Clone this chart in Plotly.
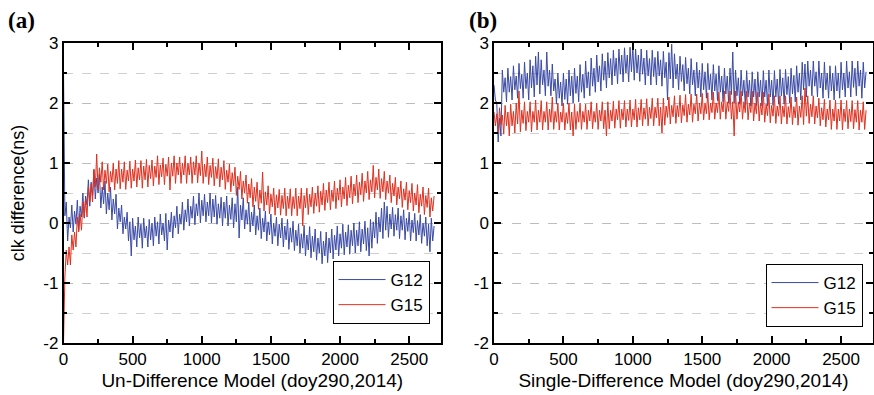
import plotly.graph_objects as go

EPOCH_STEP = 10  # upper-edge readings sit at epochs 0,20,40,...; lower-edge readings at 10,30,50,...

# ---------- Panel (a) Un-Difference model ----------
g12_undiff_upper = [
    2.55, 0.35, 0.1, 0.3, 0.2, 0.38, 0.28, 0.5, 0.45, 0.72,
    0.68, 0.88, 0.75, 0.82, 0.6, 0.7, 0.5, 0.6, 0.4, 0.48,
    0.25, 0.3, 0.1, 0.18, 0.02, 0.08, -0.05, 0.1, -0.02, 0.08,
    -0.05, 0.06, 0.0, 0.1, 0.02, 0.15, 0.0, 0.16, 0.05, 0.18,
    0.12, 0.28, 0.15, 0.35, 0.22, 0.4, 0.28, 0.45, 0.32, 0.5,
    0.38, 0.48, 0.35, 0.5, 0.4, 0.46, 0.32, 0.43, 0.35, 0.45,
    0.3, 0.42, 0.32, 0.6, 0.3, 0.42, 0.22, 0.35, 0.18, 0.3,
    0.12, 0.25, 0.08, 0.2, 0.02, 0.15, 0.0, 0.1, -0.02, 0.08,
    -0.05, 0.06, -0.08, 0.03, -0.12, -0.02, -0.18, -0.04, -0.2, -0.06,
    -0.22, -0.1, -0.25, -0.14, -0.3, -0.15, -0.25, -0.1, -0.2, -0.05,
    -0.18, -0.02, -0.15, -0.03, -0.12, 0.0, -0.12, 0.02, -0.1, 0.03,
    -0.08, 0.06, 0.02, 0.18, 0.1, 0.25, 0.35, 0.28, 0.15, 0.26,
    0.14, 0.25, 0.12, 0.22, 0.08, 0.18, 0.05, 0.16, 0.04, 0.14,
    0.0, 0.1, -0.02, 0.08, -0.05,
]
g12_undiff_lower = [
    0.12, -0.3, -0.08, -0.15, -0.02, -0.12, 0.1, 0.08, 0.3, 0.28,
    0.45, 0.4, 0.5, 0.25, 0.32, 0.15, 0.22, 0.05, 0.15, -0.1,
    0.02, -0.18, -0.1, -0.3, -0.55, -0.28, -0.4, -0.25, -0.42, -0.25,
    -0.4, -0.28, -0.38, -0.22, -0.35, -0.2, -0.3, -0.45, -0.15, -0.25,
    -0.08, -0.18, -0.02, -0.12, 0.02, -0.05, 0.08, -0.03, 0.12, 0.0,
    0.12, 0.02, 0.12, 0.0, 0.1, -0.02, 0.08, -0.05, 0.08, -0.05,
    0.06, -0.08, 0.02, -0.25, 0.05, -0.1, -0.02, -0.15, -0.05, -0.2,
    -0.12, -0.26, -0.15, -0.3, -0.2, -0.35, -0.22, -0.38, -0.25, -0.4,
    -0.28, -0.44, -0.32, -0.46, -0.38, -0.5, -0.42, -0.55, -0.45, -0.58,
    -0.48, -0.62, -0.5, -0.68, -0.55, -0.66, -0.5, -0.6, -0.45, -0.55,
    -0.42, -0.53, -0.4, -0.52, -0.38, -0.5, -0.38, -0.48, -0.35, -0.46,
    -0.55, -0.42, -0.25, -0.34, -0.15, -0.26, -0.12, -0.24, -0.1, -0.22,
    -0.12, -0.26, -0.12, -0.28, -0.14, -0.3, -0.16, -0.3, -0.2, -0.34,
    -0.22, -0.38, -0.48, -0.3,
]
g15_undiff_upper = [
    -2.0, -0.45, -0.4, -0.2, -0.15, 0.1, 0.15, 0.35, 0.4, 0.6,
    0.65, 0.9, 1.15, 0.92, 1.02, 0.88, 0.98, 0.86, 1.0, 0.9,
    1.04, 0.9, 1.02, 0.88, 1.03, 0.9, 1.05, 0.92, 1.04, 0.95,
    1.06, 0.96, 1.05, 0.95, 1.12, 0.97, 1.08, 0.98, 1.1, 1.0,
    1.12, 1.0, 1.1, 1.0, 1.12, 1.0, 1.1, 1.02, 1.12, 1.0,
    1.2, 0.98, 1.1, 0.96, 1.08, 0.94, 1.07, 0.93, 1.04, 0.88,
    0.98, 0.84, 0.93, 0.78, 0.86, 0.7, 0.8, 0.65, 0.74, 0.6,
    0.68, 0.55, 0.85, 0.52, 0.62, 0.48, 0.58, 0.47, 0.56, 0.46,
    0.58, 0.45, 0.57, 0.44, 0.58, 0.45, 0.58, 0.46, 0.58, 0.48,
    0.6, 0.5, 0.62, 0.53, 0.66, 0.55, 0.68, 0.55, 0.7, 0.58,
    0.72, 0.6, 0.76, 0.63, 0.78, 0.65, 0.8, 0.68, 0.83, 0.7,
    0.86, 0.72, 0.96, 0.76, 0.9, 0.74, 0.86, 0.7, 0.8, 0.66,
    0.76, 0.6, 0.7, 0.57, 0.68, 0.54, 0.66, 0.5, 0.64, 0.48,
    0.6, 0.46, 0.58, 0.42, 0.45,
]
g15_undiff_lower = [
    -0.9, -0.7, -0.7, -0.45, -0.4, -0.15, -0.12, 0.1, 0.1, 0.35,
    0.35, 0.6, 0.55, 0.68, 0.55, 0.66, 0.52, 0.68, 0.55, 0.66,
    0.57, 0.68, 0.56, 0.7, 0.58, 0.7, 0.6, 0.72, 0.58, 0.72,
    0.6, 0.74, 0.62, 0.76, 0.64, 0.77, 0.64, 0.78, 0.55, 0.78,
    0.66, 0.8, 0.66, 0.8, 0.66, 0.8, 0.66, 0.8, 0.67, 0.79,
    0.66, 0.77, 0.64, 0.76, 0.62, 0.74, 0.6, 0.72, 0.56, 0.68,
    0.52, 0.62, 0.46, 0.56, 0.4, 0.5, 0.33, 0.42, 0.27, 0.36,
    0.23, 0.33, 0.2, 0.3, 0.15, 0.27, 0.13, 0.25, 0.13, 0.24,
    0.12, 0.24, 0.12, 0.24, 0.12, 0.24, -0.05, 0.25, 0.14, 0.27,
    0.16, 0.28, 0.18, 0.3, 0.21, 0.34, 0.22, 0.36, 0.24, 0.38,
    0.27, 0.4, 0.29, 0.42, 0.32, 0.45, 0.34, 0.47, 0.36, 0.5,
    0.39, 0.52, 0.42, 0.55, 0.41, 0.52, 0.39, 0.5, 0.34, 0.45,
    0.3, 0.4, 0.26, 0.38, 0.22, 0.34, 0.2, 0.3, 0.17, 0.28,
    0.14, 0.26, 0.1, 0.2,
]

# ---------- Panel (b) Single-Difference model ----------
g12_sdiff_upper = [
    2.3, 2.0, 1.75, 2.55, 2.42, 2.58, 2.44, 2.62, 2.45, 2.66,
    2.48, 2.68, 2.5, 2.72, 2.62, 2.78, 2.85, 2.72, 2.55, 2.85,
    2.55, 2.65, 2.4, 2.5, 2.35, 2.5, 2.4, 2.55, 2.45, 2.58,
    2.45, 2.64, 2.48, 2.7, 2.52, 2.75, 2.58, 2.8, 2.62, 2.82,
    2.7, 2.84, 2.74, 2.88, 2.75, 2.9, 2.8, 2.92, 2.8, 2.93,
    2.95, 2.9, 2.8, 2.9, 2.75, 2.88, 2.74, 2.88, 2.76, 2.86,
    2.72, 2.86, 2.68, 2.84, 2.98, 2.82, 2.65, 2.78, 2.64, 2.76,
    2.58, 2.74, 2.55, 2.68, 2.55, 2.66, 2.52, 2.66, 2.48, 2.64,
    2.48, 2.62, 2.45, 2.58, 2.45, 2.58, 2.85, 2.55, 2.42, 2.55,
    2.38, 2.54, 2.38, 2.52, 2.4, 2.52, 2.38, 2.54, 2.38, 2.55,
    2.38, 2.54, 2.4, 2.56, 2.42, 2.56, 2.44, 2.58, 2.46, 2.62,
    2.5, 2.68, 2.65, 2.7, 2.55, 2.7, 2.52, 2.7, 2.5, 2.68,
    2.5, 2.62, 2.5, 2.62, 2.5, 2.68, 2.5, 2.7, 2.52, 2.7,
    2.58, 2.7, 2.55, 2.68, 2.52,
]
g12_sdiff_lower = [
    2.05, 1.35, 1.45, 2.18, 2.02, 2.18, 2.05, 2.22, 2.08, 2.24,
    2.08, 2.24, 2.05, 2.25, 2.1, 2.3, 2.15, 2.3, 2.12, 2.28,
    2.12, 2.2, 1.98, 2.08, 1.95, 2.06, 1.98, 2.12, 2.0, 2.16,
    2.02, 2.18, 2.08, 2.25, 2.12, 2.28, 2.18, 2.35, 2.2, 2.38,
    2.25, 2.42, 2.3, 2.45, 2.32, 2.48, 2.35, 2.5, 2.35, 2.52,
    2.38, 2.5, 2.36, 2.48, 2.3, 2.45, 2.3, 2.44, 2.3, 2.45,
    2.28, 2.42, 2.05, 2.4, 2.25, 2.4, 2.22, 2.36, 2.2, 2.32,
    2.15, 2.3, 2.12, 2.25, 2.1, 2.22, 2.08, 2.22, 2.05, 2.2,
    2.04, 2.18, 2.02, 2.15, 2.0, 2.14, 2.0, 2.12, 1.98, 2.12,
    1.96, 2.1, 1.95, 2.1, 1.95, 2.1, 1.95, 2.1, 1.95, 2.1,
    1.96, 2.1, 1.98, 2.12, 1.98, 2.14, 2.0, 2.15, 2.02, 2.18,
    2.05, 2.22, 2.1, 2.28, 2.12, 2.28, 2.1, 2.25, 2.08, 2.22,
    2.08, 2.2, 2.05, 2.2, 2.08, 2.22, 2.1, 2.25, 2.1, 2.26,
    2.12, 2.28, 2.08, 2.25,
]
g15_sdiff_upper = [
    1.85, 1.82, 1.92, 1.8, 1.96, 1.85, 1.98, 1.86, 2.0, 2.2,
    1.88, 2.02, 1.86, 2.02, 1.86, 2.05, 1.88, 2.04, 1.86, 2.02,
    1.9, 2.1, 1.86, 2.0, 1.85, 2.0, 1.84, 2.0, 1.85, 1.98,
    1.86, 2.0, 1.86, 1.98, 1.88, 2.02, 1.86, 2.0, 1.88, 2.02,
    1.88, 2.02, 1.88, 2.03, 1.9, 2.04, 1.9, 2.04, 1.9, 2.05,
    1.9, 2.06, 1.92, 2.06, 1.92, 2.07, 1.93, 2.08, 1.93, 2.08,
    1.93, 2.08, 1.95, 2.1, 1.96, 2.12, 1.96, 2.13, 1.97, 2.14,
    1.98, 2.15, 1.98, 2.15, 2.0, 2.16, 2.0, 2.17, 2.0, 2.18,
    2.0, 2.18, 2.02, 2.2, 2.02, 2.2, 2.02, 2.2, 2.02, 2.2,
    2.02, 2.2, 2.0, 2.2, 2.0, 2.18, 2.0, 2.18, 1.98, 2.15,
    1.96, 2.12, 1.95, 2.12, 1.95, 2.12, 1.94, 2.1, 1.94, 2.1,
    1.95, 2.12, 2.25, 2.12, 1.98, 2.12, 1.95, 2.08, 1.92, 2.06,
    1.9, 2.05, 1.9, 2.05, 1.9, 2.05, 1.9, 2.04, 1.9, 2.04,
    1.89, 2.04, 1.88, 2.02, 1.88,
]
g15_sdiff_lower = [
    1.62, 1.5, 1.64, 1.48, 1.62, 1.45, 1.62, 1.5, 1.65, 1.52,
    1.66, 1.54, 1.68, 1.52, 1.68, 1.55, 1.68, 1.55, 1.68, 1.55,
    1.68, 1.56, 1.68, 1.55, 1.68, 1.55, 1.66, 1.55, 1.45, 1.56,
    1.68, 1.56, 1.68, 1.56, 1.7, 1.57, 1.68, 1.56, 1.7, 1.57,
    1.45, 1.57, 1.7, 1.58, 1.72, 1.58, 1.72, 1.6, 1.71, 1.6,
    1.72, 1.6, 1.72, 1.62, 1.73, 1.62, 1.74, 1.62, 1.75, 1.62,
    1.5, 1.63, 1.76, 1.65, 1.77, 1.66, 1.77, 1.67, 1.79, 1.68,
    1.8, 1.68, 1.82, 1.7, 1.82, 1.72, 1.82, 1.72, 1.84, 1.73,
    1.84, 1.73, 1.85, 1.73, 1.86, 1.73, 1.45, 1.73, 1.85, 1.73,
    1.84, 1.72, 1.84, 1.7, 1.82, 1.7, 1.8, 1.68, 1.79, 1.67,
    1.78, 1.66, 1.78, 1.65, 1.77, 1.65, 1.76, 1.64, 1.75, 1.63,
    1.76, 1.64, 1.78, 1.66, 1.77, 1.65, 1.75, 1.62, 1.72, 1.6,
    1.72, 1.56, 1.7, 1.56, 1.7, 1.55, 1.69, 1.57, 1.69, 1.57,
    1.68, 1.55, 1.68, 1.56,
]

series_names = ["G12", "G15"]
panel_labels = ["(a)", "(b)"]
x_titles = ["Un-Difference Model (doy290,2014)", "Single-Difference Model (doy290,2014)"]
y_title = "clk difference(ns)"
y_tickvals = [-2, -1, 0, 1, 2, 3]
y_ticktext = ["-2", "-1", "0", "1", "2", "3"]
x_tickvals = [0, 500, 1000, 1500, 2000, 2500]

BLUE = "#3A4AA5"
RED = "#E0301F"
W, H = 874, 395


def merge(upper, lower):
    out = []
    for i, v in enumerate(upper):
        out.append(v)
        if i < len(lower):
            out.append(lower[i])
    return out


def epochs(vals):
    return [i * EPOCH_STEP for i in range(len(vals))]


fig = go.Figure()
panels = [((g12_undiff_upper, g12_undiff_lower), (g15_undiff_upper, g15_undiff_lower)),
          ((g12_sdiff_upper, g12_sdiff_lower), (g15_sdiff_upper, g15_sdiff_lower))]
for p, (bpair, rpair) in enumerate(panels):
    xa = "x" if p == 0 else "x2"
    ya = "y" if p == 0 else "y2"
    lg = "legend" if p == 0 else "legend2"
    b = merge(*bpair)
    r = merge(*rpair)
    fig.add_trace(go.Scatter(x=epochs(b), y=b, mode="lines", name=series_names[0],
                             line=dict(color=BLUE, width=1), xaxis=xa, yaxis=ya, legend=lg))
    fig.add_trace(go.Scatter(x=epochs(r), y=r, mode="lines", name=series_names[1],
                             line=dict(color=RED, width=1), xaxis=xa, yaxis=ya, legend=lg))

font_family = "Liberation Sans, Arial, sans-serif"
ydom = [1 - 343 / H, 1 - 43 / H]
xdoms = [[63.5 / W, 441 / W], [494 / W, 873 / W]]


def xaxis(dom, title, anchor):
    return dict(domain=dom, range=[0, 2730], anchor=anchor, automargin=False,
                tickvals=x_tickvals,
                ticks="inside", ticklen=7, tickwidth=1.5, tickcolor="black",
                showline=True, linecolor="black", linewidth=1.5, mirror="allticks",
                showgrid=False, zeroline=False,
                minor=dict(dtick=250, tick0=0, ticks="inside", ticklen=4, tickcolor="black", showgrid=False),
                tickfont=dict(family=font_family, size=17, color="black"),
                title=dict(text=title, font=dict(family=font_family, size=19, color="black"), standoff=6))


def yaxis(dom, anchor, title=None):
    d = dict(domain=dom, range=[-2, 3], anchor=anchor, automargin=False,
             tickvals=y_tickvals, ticktext=y_ticktext,
             ticks="inside", ticklen=7, tickwidth=1.5, tickcolor="black",
             showline=True, linecolor="black", linewidth=1.5, mirror="allticks",
             showgrid=True, gridcolor="#bdbdbd", griddash="dash", gridwidth=1,
             zeroline=False,
             minor=dict(dtick=0.5, tick0=0, ticks="inside", ticklen=4, tickcolor="black",
                        showgrid=True, gridcolor="#cfcfcf", griddash="dash", gridwidth=1),
             tickfont=dict(family=font_family, size=17, color="black"))
    if title:
        d["title"] = dict(text=title, font=dict(family=font_family, size=18, color="black"), standoff=14)
    return d


legend_common = dict(bgcolor="white", bordercolor="black", borderwidth=1,
                     font=dict(family=font_family, size=17, color="black"),
                     xanchor="right", yanchor="top", tracegroupgap=0, itemwidth=47)

fig.update_layout(
    width=W, height=H,
    template="none",
    margin=dict(l=0, r=0, t=0, b=0),
    paper_bgcolor="white", plot_bgcolor="white",
    xaxis=xaxis(xdoms[0], x_titles[0], "y"),
    yaxis=yaxis(ydom, "x", y_title),
    xaxis2=xaxis(xdoms[1], x_titles[1], "y2"),
    yaxis2=yaxis(ydom, "x2"),
    legend=dict(x=429.5 / W, y=1 - 261 / H, **legend_common),
    legend2=dict(x=862.5 / W, y=1 - 264 / H, **legend_common),
    showlegend=True,
    annotations=[
        dict(text="<b>" + panel_labels[0] + "</b>", x=6 / W, y=1 - 21 / H, xref="paper", yref="paper",
             xanchor="left", yanchor="middle", showarrow=False,
             font=dict(family="Liberation Serif, Times New Roman, serif", size=23, color="black")),
        dict(text="<b>" + panel_labels[1] + "</b>", x=467 / W, y=1 - 21 / H, xref="paper", yref="paper",
             xanchor="left", yanchor="middle", showarrow=False,
             font=dict(family="Liberation Serif, Times New Roman, serif", size=23, color="black")),
    ],
)

fig.write_html("out.html")
